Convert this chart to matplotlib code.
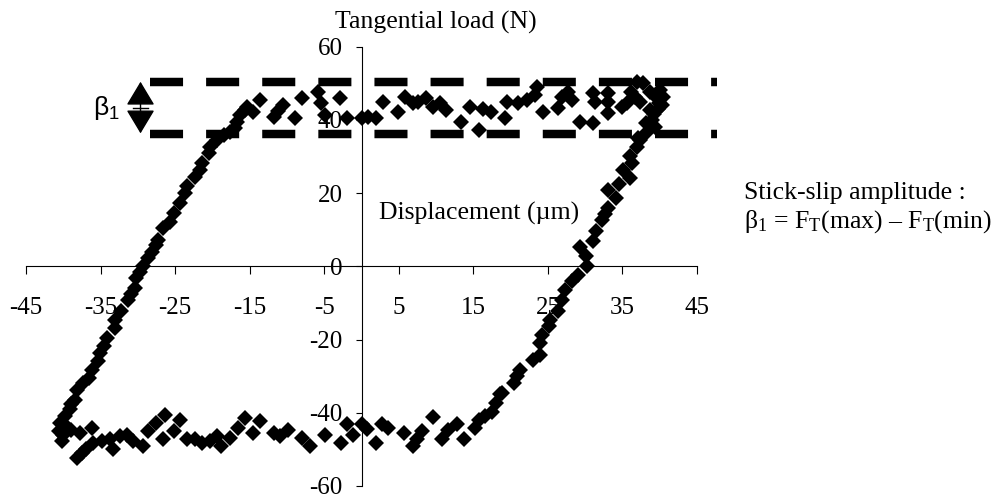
import matplotlib
matplotlib.use("Agg")
import matplotlib.pyplot as plt

plt.rcParams['font.family'] = ['Liberation Serif', 'DejaVu Serif']
plt.rcParams['axes.unicode_minus'] = False
plt.rcParams['mathtext.fontset'] = 'custom'
plt.rcParams['mathtext.rm'] = 'Liberation Serif'
plt.rcParams['mathtext.it'] = 'Liberation Serif:italic'
plt.rcParams['lines.scale_dashes'] = False

# ---------------- data ----------------
x_ticks = [-45, -35, -25, -15, -5, 5, 15, 25, 35, 45]
y_ticks = [-60, -40, -20, 0, 20, 40, 60]

# loading branch (left, going up)
left_x = [-40.4, -39.8, -39.1, -38.9, -38.4, -38.2, -37.3, -36.6, -36.2, -35.3,
          -35.1, -34.6, -34.2, -33.1, -33.1, -32.2, -31.3, -30.9, -30.4, -30.2,
          -29.7, -29.3, -28.6, -28.1, -27.6, -27.3, -26.6, -25.7, -25.2, -24.3,
          -23.7, -23.4, -22.3, -21.7, -21.4, -20.5, -20.3, -19.4, -18.5, -17.6,
          -17.0, -16.7, -16.3, -15.6, -15.4]
left_y = [-42.8, -41.0, -39.1, -37.5, -36.4, -33.7, -31.9, -30.5, -28.2, -26.0,
          -23.7, -21.9, -19.6, -16.9, -14.6, -12.3, -9.1, -7.5, -5.9, -3.2,
          -1.5, 0.0, 2.2, 4.0, 5.8, 7.2, 10.4, 12.2, 14.5, 17.2,
          20.0, 21.8, 24.5, 26.3, 28.1, 30.9, 32.7, 34.5, 35.9, 36.8,
          37.7, 39.5, 41.3, 42.7, 43.6]

# upper stick-slip plateau
top_x = [-14.5, -13.6, -11.8, -11.2, -10.5, -8.9, -8.0, -5.8, -5.4, -4.9,
         -2.9, -2.0, 0.0, 0.9, 2.0, 2.9, 4.9, 5.8, 6.9, 7.6,
         8.6, 9.6, 10.5, 11.4, 13.4, 14.6, 15.7, 16.3, 17.4, 19.2,
         19.5, 21.0, 22.2, 23.3, 23.5, 24.4, 26.4, 26.9, 27.7, 28.2,
         29.3, 31.1, 31.1, 31.3, 33.1, 33.1, 33.1, 34.9, 35.6, 36.2,
         36.9, 37.8, 36.7, 37.4, 38.7, 40.0, 40.5, 40.3, 38.7, 38.9,
         39.4, 39.6, 39.9, 39.8, 39.2, 38.2]
top_y = [42.2, 45.4, 40.9, 42.5, 44.0, 40.4, 45.9, 47.7, 44.7, 41.3,
         45.9, 40.4, 40.4, 40.9, 40.4, 44.9, 42.2, 46.3, 44.5, 44.9,
         46.0, 43.6, 44.5, 42.7, 39.5, 43.4, 37.2, 43.0, 42.2, 40.4,
         44.9, 44.5, 45.4, 46.8, 49.0, 42.2, 43.1, 46.3, 47.7, 45.4,
         39.5, 39.0, 47.2, 44.9, 47.2, 44.9, 41.8, 43.6, 44.5, 47.7,
         50.4, 50.0, 46.3, 44.9, 47.7, 48.1, 46.3, 44.0, 42.7, 40.0,
         38.1, 46.0, 44.5, 43.0, 41.5, 39.0]

# unloading branch (right, going down)
right_x = [38.3, 37.1, 37.4, 36.9, 36.0, 36.3, 35.1, 36.0, 34.6, 33.1,
           34.2, 33.1, 32.6, 32.2, 31.5, 31.1, 29.3, 30.1, 30.2, 29.1,
           28.2, 27.3, 26.9, 26.4, 25.3, 25.1, 24.2, 23.9, 23.9, 23.0,
           21.3, 20.8, 20.4, 18.8, 18.6, 18.1, 17.5, 16.5, 15.7, 15.2]
right_y = [36.8, 35.0, 34.5, 32.7, 30.0, 28.2, 26.3, 24.0, 22.5, 20.9,
           18.7, 16.0, 14.2, 12.7, 9.5, 6.8, 5.4, 2.7, 0.0, -2.3,
           -4.1, -6.4, -9.1, -12.3, -14.6, -16.4, -18.7, -20.9, -24.1, -25.5,
           -28.2, -30.0, -31.9, -34.6, -35.0, -37.3, -39.8, -41.0, -42.1, -44.1]

# lower stick-slip plateau
bottom_x = [13.7, 12.8, 11.6, 10.8, 9.6, 8.1, 7.4, 6.9, 5.7, 3.6,
            2.7, 2.0, 0.7, 0.0, -1.2, -2.0, -2.8, -4.9, -6.9, -8.0,
            -9.8, -10.9, -11.8, -13.6, -14.5, -15.6, -16.5, -17.6, -18.8, -19.4,
            -20.3, -21.4, -22.3, -23.4, -24.3, -25.2, -26.6, -26.4, -27.5, -28.6,
            -29.3, -30.6, -31.5, -32.4, -33.3, -33.7, -34.8, -36.0, -36.2, -36.9,
            -37.5, -38.2, -37.8, -38.9, -40.0, -40.2, -40.6, -39.5]
bottom_y = [-47.3, -43.2, -44.6, -47.3, -41.2, -45.0, -47.3, -49.2, -45.5, -44.1,
            -43.2, -48.2, -44.4, -43.2, -46.2, -43.2, -48.2, -46.0, -49.2, -46.9,
            -44.6, -46.4, -45.5, -42.3, -45.5, -41.4, -44.1, -46.9, -49.1, -46.4,
            -47.8, -48.2, -47.3, -47.3, -41.9, -45.0, -47.3, -40.5, -42.8, -45.0,
            -49.1, -47.8, -46.0, -46.4, -50.0, -47.3, -47.8, -48.2, -44.1, -50.0,
            -50.9, -52.3, -45.5, -44.6, -46.0, -47.8, -45.0, -44.0]

# stick-slip band limits (N) and its drawn extent (um)
ft_levels = [50.2, 36.0]
band_x = [-28.37, 47.7]

# ---------------- figure ----------------
fig = plt.figure(figsize=(10, 5.01), dpi=100)
ax = fig.add_axes([0.026, 0.030, 0.671, 0.877])
ax.patch.set_visible(False)
ax.set_xlim(-45, 45)
ax.set_ylim(-60, 60)
ax.spines['left'].set_position(('data', 0))
ax.spines['bottom'].set_position(('data', 0))
ax.spines['right'].set_visible(False)
ax.spines['top'].set_visible(False)
for s in ('left', 'bottom'):
    ax.spines[s].set_linewidth(0.8)
ax.set_xticks(x_ticks)
ax.set_yticks(y_ticks)
ax.set_xticklabels([str(v) for v in x_ticks])
ax.set_yticklabels([str(v) for v in y_ticks])
ax.tick_params(axis='x', direction='out', length=5.8, width=0.8, pad=16, labelsize=18)
ax.tick_params(axis='y', direction='out', length=4.5, width=0.8, pad=9, labelsize=18)
ax.set_axisbelow(True)

ax.hlines(ft_levels, band_x[0], band_x[1], colors='k', linewidth=6.1,
          linestyles=[(0, (23.8, 16.6))], clip_on=False, zorder=2)

for xs, ys in ((left_x, left_y), (top_x, top_y), (right_x, right_y), (bottom_x, bottom_y)):
    ax.plot(xs, ys, 'D', ms=7.8, mew=0, color='k', zorder=3, clip_on=False)

# beta_1 double arrow
arr_x = -29.64
arr_tips = [50.4, 36.3]
arr_mid = 43.2
for tip in arr_tips:
    ax.annotate('', xy=(arr_x, tip), xytext=(arr_x, arr_mid),
                arrowprops=dict(arrowstyle='-|>,head_length=1.0,head_width=0.6',
                                mutation_scale=15, color='k', lw=1.0,
                                shrinkA=0, shrinkB=0),
                annotation_clip=False)
ax.plot([arr_x - 1.05, arr_x + 1.05], [arr_mid, arr_mid], 'k-', lw=1.0, clip_on=False)

W, H = 1000.0, 501.0
fig.text(335 / W, 1 - 29 / H, 'Tangential load (N)', ha='left', va='baseline', fontsize=18.5)
fig.text(379 / W, 1 - 220 / H, 'Displacement (µm)', ha='left', va='baseline', fontsize=18.5)
fig.text(744 / W, 1 - 199 / H, 'Stick-slip amplitude :', ha='left', va='baseline', fontsize=18.5)
fig.text(744 / W, 1 - 228 / H,
         r'$\mathregular{\beta_1}$ = F$\mathregular{_T}$(max) – F$\mathregular{_T}$(min)',
         ha='left', va='baseline', fontsize=18.5)
fig.text(93 / W, 1 - 115 / H, r'$\mathregular{\beta_1}$', ha='left', va='baseline',
         fontsize=19, family=['Liberation Sans', 'DejaVu Sans'])

fig.savefig('out.png', dpi=100)
